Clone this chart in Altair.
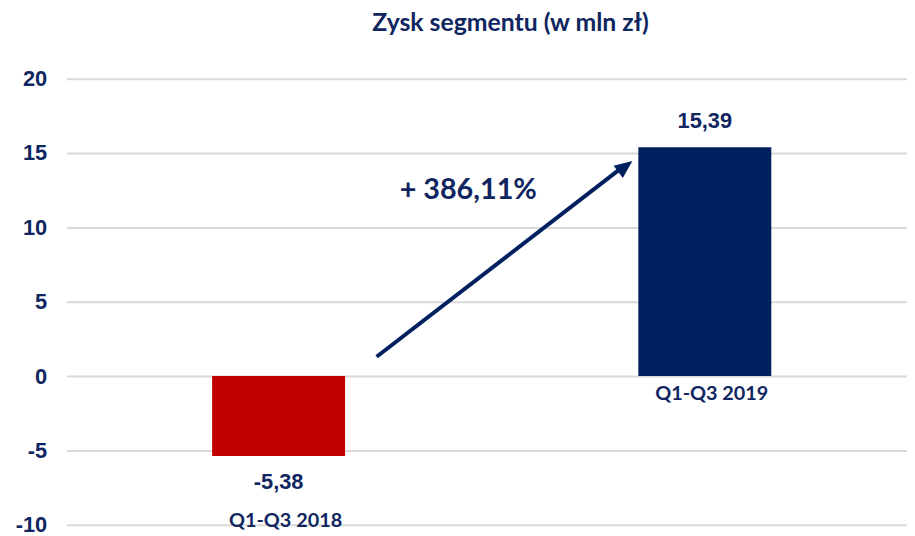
import altair as alt
import pandas as pd

# ---- data ----
categories = ["Q1-Q3 2018", "Q1-Q3 2019"]
values = [-5.38, 15.39]
value_labels = ["-5,38", "15,39"]
bar_colors = ["#C00000", "#002060"]

title_text = "Zysk segmentu (w mln zł)"
change_label = ["+ 386,11%"]
# annotation positions in category units (0 = centre of first bar) and y units
arrow_x = [0.23, 0.807]
arrow_y = [1.3, 14.05]
head_x = [0.8135]
head_y = [14.1]
change_x = [0.445]
change_y = [12.5]

y_ticks = [-10, -5, 0, 5, 10, 15, 20]
y_domain = [-10, 20]
x_domain = [-0.4977, 1.4744]
HALF_BAR = 0.156

TEXT = "#102660"
NAVY = "#002060"
CAL = "Liberation Sans Narrow, Lato, sans-serif"
ARIAL = "Liberation Sans, Arial, sans-serif"

bars = pd.DataFrame({"cat": categories, "idx": list(range(len(categories))),
                     "value": values, "label": value_labels, "color": bar_colors})
arrow_df = pd.DataFrame({"ax": arrow_x, "ay": arrow_y})
head_df = pd.DataFrame({"ax": head_x, "ay": head_y})
change_df = pd.DataFrame({"ax": change_x, "ay": change_y, "t": change_label})

xscale = alt.Scale(domain=x_domain, nice=False, zero=False)
yscale = alt.Scale(domain=y_domain, nice=False, zero=False)
XC = alt.X("idx:Q", scale=xscale, axis=None)

bar_layer = alt.Chart(bars).transform_calculate(
    x1=f"datum.idx - {HALF_BAR}", x2=f"datum.idx + {HALF_BAR}", base="0"
).mark_bar().encode(
    x=alt.X("x1:Q", scale=xscale, axis=None),
    x2="x2:Q",
    y=alt.Y("value:Q", scale=yscale, axis=alt.Axis(
        values=y_ticks, title=None, labelFont=ARIAL, labelFontWeight="bold",
        labelFontSize=22, labelColor=TEXT, labelPadding=20, domain=False,
        labelExpr="'' + datum.value",
        ticks=False, gridColor="#D9D9D9", gridWidth=2)),
    y2="base:Q",
    color=alt.Color("color:N", scale=None),
)

pos_val = alt.Chart(bars).transform_filter("datum.value >= 0").mark_text(
    font=ARIAL, fontWeight="bold", fontSize=22, color=TEXT, baseline="alphabetic", dy=-19
).encode(x=XC, y=alt.Y("value:Q", scale=yscale), text="label:N")

neg_val = alt.Chart(bars).transform_filter("datum.value < 0").mark_text(
    font=ARIAL, fontWeight="bold", fontSize=22, color=TEXT, baseline="top", dy=16
).encode(x=XC, y=alt.Y("value:Q", scale=yscale), text="label:N")

pos_cat = alt.Chart(bars).transform_filter("datum.value >= 0").transform_calculate(zero="0").mark_text(
    font=CAL, fontWeight="bold", fontSize=20, color=TEXT, baseline="top", dy=8, dx=7
).encode(x=XC, y=alt.Y("zero:Q", scale=yscale), text="cat:N")

neg_cat = alt.Chart(bars).transform_filter("datum.value < 0").mark_text(
    font=CAL, fontWeight="bold", fontSize=20, color=TEXT, baseline="top", dy=56, dx=7
).encode(x=XC, y=alt.Y("value:Q", scale=yscale), text="cat:N")

AX = alt.X("ax:Q", scale=xscale, axis=None)
AY = alt.Y("ay:Q", scale=yscale)

arrow_line = alt.Chart(arrow_df).mark_line(color=NAVY, strokeWidth=4).encode(x=AX, y=AY)
arrow_head = alt.Chart(head_df).mark_point(
    shape="M0,-1L0.85,1L-0.85,1Z", angle=52.6, size=324, filled=True, opacity=1, color=NAVY
).encode(x=AX, y=AY)
change_text = alt.Chart(change_df).mark_text(
    font=CAL, fontWeight="bold", fontSize=29, color=TEXT, baseline="middle"
).encode(x=AX, y=AY, text="t:N")

chart = alt.layer(bar_layer, pos_val, neg_val, pos_cat, neg_cat,
                  arrow_line, arrow_head, change_text).properties(
    width=848, height=450,
    title=alt.TitleParams(title_text, font=CAL, fontSize=25, fontWeight="bold", color=TEXT,
                          anchor="middle", dx=24, offset=32, frame="group"),
    autosize=alt.AutoSizeParams(type="none"),
    padding={"left": 59, "top": 69, "right": 0, "bottom": 9},
).configure_view(stroke=None)

chart.save("out.html", embed_options={"renderer": "svg", "actions": False})
